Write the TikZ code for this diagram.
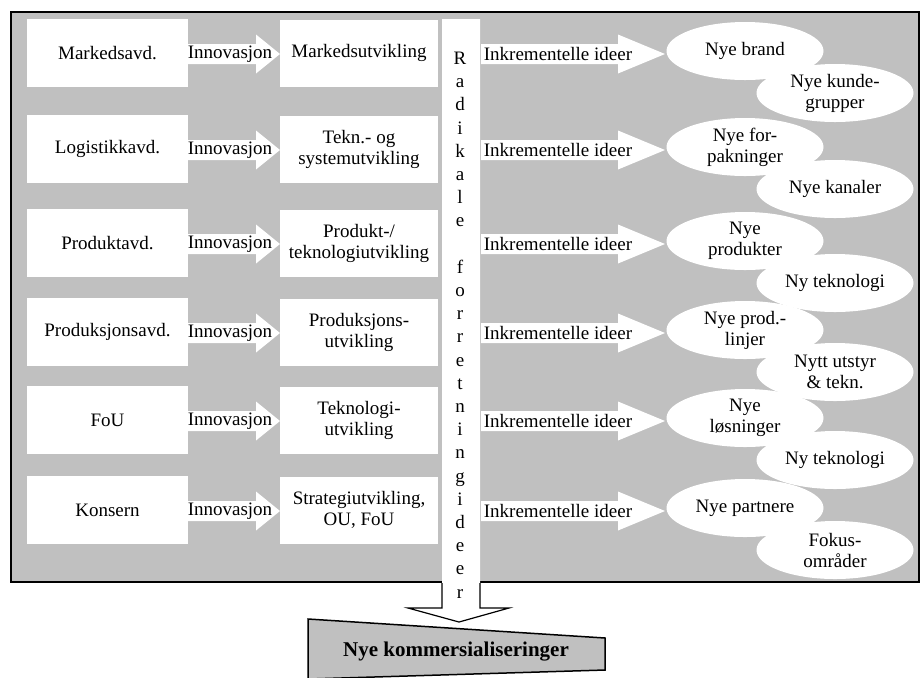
\documentclass[tikz,border=0pt]{standalone}
\usepackage{fontspec}
\setmainfont{Liberation Serif}
\usetikzlibrary{shapes.geometric}
\definecolor{panelgray}{HTML}{C0C0C0}
\begin{document}
\begin{tikzpicture}[x=0.5pt, y=-0.5pt,
  txt/.style={font=\fontsize{9.5}{10.5}\selectfont, align=center, inner sep=0pt},
  dept/.style={txt, fill=white, minimum width=80.5pt, minimum height=34pt},
  devbox/.style={txt, fill=white, minimum width=79pt, minimum height=33.5pt},
  idea/.style={txt, ellipse, fill=white, minimum width=78.5pt, minimum height=29pt}]
\useasboundingbox (0,0) rectangle (921,677);
% panel
\draw[line width=0.75pt, fill=panelgray] (11,12) rectangle (919,582);
% radical ideas arrow
\fill[white] (442,19) -- (480,19) -- (480,608) -- (509,608) -- (459,622) -- (408,608) -- (442,608) -- cycle;
\draw[line width=0.6pt] (442,583) -- (442,608) -- (408,608) -- (459,622) -- (509,608) -- (480,608) -- (480,583);
\node[txt, font=\fontsize{9.5}{11.6}\selectfont] (radikal) at (460,325)
  {R\\a\\d\\i\\k\\a\\l\\e\\\mbox{}\\f\\o\\r\\r\\e\\t\\n\\i\\n\\g\\i\\d\\e\\e\\r};
% rows
\foreach \y/\dept/\dev/\newa/\newb [count=\i] in {
  53/Markedsavd./Markedsutvikling/Nye brand/{Nye kunde-\\grupper},
  149/Logistikkavd./{Tekn.- og\\systemutvikling}/{Nye for-\\pakninger}/Nye kanaler,
  243/Produktavd./{Produkt-/\\teknologiutvikling}/{Nye\\produkter}/Ny teknologi,
  332/Produksjonsavd./{Produksjons-\\utvikling}/{Nye prod.-\\linjer}/{Nytt utstyr\\\& tekn.},
  420/FoU/{Teknologi-\\utvikling}/{Nye\\løsninger}/Ny teknologi,
  510/Konsern/{Strategiutvikling,\\OU, FoU}/Nye partnere/{Fokus-\\områder}} {
  \node[dept] (dept\i) at (107.5,\y) {\dept};
  \fill[white] (188,\y-9) -- (256,\y-9) -- (256,\y-18.5) -- (280,\y+1) -- (256,\y+20.5) -- (256,\y+11) -- (188,\y+11) -- cycle;
  \node[txt] (inno\i) at (230,\y+1) {Innovasjon};
  \node[devbox] (dev\i) at (359,\y) {\dev};
  \fill[white] (481,\y-9) -- (618,\y-9) -- (618,\y-18.5) -- (665,\y+1) -- (618,\y+20.5) -- (618,\y+11) -- (481,\y+11) -- cycle;
  \node[txt] (inkr\i) at (558,\y+1) {Inkrementelle ideer};
  \node[idea] (newa\i) at (745,\y-2) {\newa};
  \node[idea] (newb\i) at (835,\y+40) {\newb};
}
% result
\draw[line width=0.75pt, fill=panelgray] (308,619) -- (605,638) -- (605,670) -- (308,679) -- cycle;
\node[font=\bfseries\fontsize{10.5}{12}\selectfont, inner sep=0pt] (result) at (456,652) {Nye kommersialiseringer};
\end{tikzpicture}
\end{document}
